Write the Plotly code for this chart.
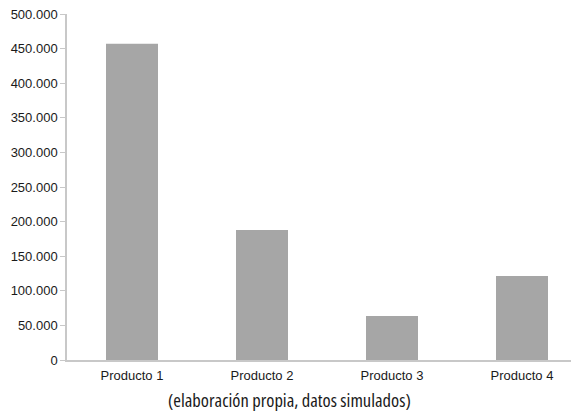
import plotly.graph_objects as go

categories = ["Producto 1", "Producto 2", "Producto 3", "Producto 4"]
values = [457000, 188000, 63500, 121500]
caption = "(elaboración propia, datos simulados)"

fig = go.Figure(go.Bar(
    x=categories, y=values, marker=dict(color="#a6a6a6", line=dict(width=0)),
    width=0.4,
))
fig.update_layout(
    width=579, height=411,
    margin=dict(l=59, r=0, t=6, b=59),
    paper_bgcolor="white", plot_bgcolor="white",
    separators=",.",
    showlegend=False,
    font=dict(family="Liberation Sans, Arial, sans-serif", size=13, color="#1a1a1a"),
)
fig.update_xaxes(range=[-0.5, 3.5], showline=True, linecolor="#c8c8c8", linewidth=1.5,
                 ticks="", showgrid=False, ticklabelstandoff=3)
fig.update_yaxes(range=[0, 500000], dtick=50000, tickformat=",d", showline=True,
                 linecolor="#c8c8c8", linewidth=1.5, ticks="outside", ticklen=5,
                 tickcolor="#c8c8c8", showgrid=False, zeroline=False, ticklabeloverflow="allow")
fig.add_annotation(
    text='<span style="font-stretch:75%">' + caption + '</span>',
    xref="paper", yref="paper", x=(281.5 - 59) / 520, y=-39 / 346,
    xanchor="center", yanchor="middle", showarrow=False,
    font=dict(family="Open Sans", size=18.5, color="#1a1a1a"),
)
fig.write_html("out.html")
